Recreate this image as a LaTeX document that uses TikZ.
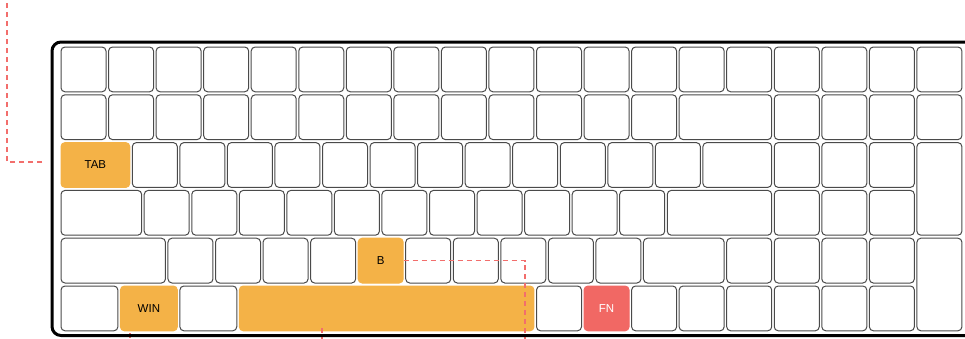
\documentclass[tikz,border=0pt]{standalone}
\usepackage{fontspec}
\setmainfont{Liberation Sans}
\definecolor{keyorange}{HTML}{F4B247}
\definecolor{keyred}{HTML}{F16864}
\definecolor{dashred}{HTML}{F26E6C}
\definecolor{keyline}{HTML}{4A4A4A}
\tikzset{
  keybase/.style={draw=keyline, line width=1pt, fill=white, rounded corners=4pt, inner sep=0pt, font=\fontsize{11.5}{12}\selectfont},
  hlkey/.style={fill=keyorange, draw=keyorange},
  fnkey/.style={fill=keyred, draw=keyred, text=white},
  dashline/.style={draw=dashred, line width=1.3pt, dash pattern=on 5pt off 4pt},
  frameline/.style={draw=black, line width=3pt, rounded corners=9pt}
}
% #1 name, #2 row top, #3 start (u), #4 width (u), #5 extra style, #6 text
\newcommand{\keyat}[6]{%
  \node[keybase,#5, minimum width={#4*47.55-2.55}, minimum height=44.8] (#1) at ({61+(#3+#4/2)*47.55-1.275}, {#2+22.4}) {#6};%
}
\begin{document}
\begin{tikzpicture}[x=1pt,y=-1pt]
\useasboundingbox (0,0) rectangle (965,338);
\clip (0,0) rectangle (965,338);
\fill[white] (0,0) rectangle (965,338);
% row 1
\foreach \i in {0,...,18} {\keyat{k1-\i}{47}{\i}{1}{}{}}
% row 2
\foreach \i in {0,...,12} {\keyat{k2-\i}{94.8}{\i}{1}{}{}}
\keyat{k2-bs}{94.8}{13}{2}{}{}
\foreach \i in {15,...,18} {\keyat{k2-\i}{94.8}{\i}{1}{}{}}
% row 3
\keyat{TAB}{142.6}{0}{1.5}{hlkey}{TAB}
\foreach \i in {0,...,11} {\keyat{k3-\i}{142.6}{1.5+\i}{1}{}{}}
\keyat{k3-bsl}{142.6}{13.5}{1.5}{}{}
\foreach \i in {15,16,17} {\keyat{k3-\i}{142.6}{\i}{1}{}{}}
\node[keybase, minimum width=45, minimum height=92.6] (tall1) at ({61+18.5*47.55-1.275},{142.6+46.3}) {};
% row 4
\keyat{k4-caps}{190.4}{0}{1.75}{}{}
\foreach \i in {0,...,10} {\keyat{k4-\i}{190.4}{1.75+\i}{1}{}{}}
\keyat{k4-ent}{190.4}{12.75}{2.25}{}{}
\foreach \i in {15,16,17} {\keyat{k4-\i}{190.4}{\i}{1}{}{}}
% row 5
\keyat{k5-sh}{238.2}{0}{2.25}{}{}
\foreach \i in {0,1,2,3} {\keyat{k5-\i}{238.2}{2.25+\i}{1}{}{}}
\keyat{B}{238.2}{6.25}{1}{hlkey}{B}
\foreach \i in {5,...,9} {\keyat{k5-\i}{238.2}{2.25+\i}{1}{}{}}
\keyat{k5-rsh}{238.2}{12.25}{1.75}{}{}
\foreach \i in {14,...,17} {\keyat{k5-\i}{238.2}{\i}{1}{}{}}
\node[keybase, minimum width=45, minimum height=92.6] (tall2) at ({61+18.5*47.55-1.275},{238.2+46.3}) {};
% row 6
\keyat{k6-ctl}{286}{0}{1.25}{}{}
\keyat{WIN}{286}{1.25}{1.25}{hlkey}{WIN}
\keyat{k6-alt}{286}{2.5}{1.25}{}{}
\keyat{SPACE}{286}{3.75}{6.25}{hlkey}{}
\keyat{k6-ralt}{286}{10}{1}{}{}
\keyat{FN}{286}{11}{1}{fnkey}{FN}
\foreach \i in {12,...,17} {\keyat{k6-\i}{286}{\i}{1}{}{}}
% dashed connectors
\coordinate (tabfree) at (42,162);
\coordinate (tabcorner) at (7,162);
\coordinate (tabtop) at (7,-3);
\draw[dashline] (tabfree) -- (tabcorner) -- (tabtop);
\coordinate (bdown) at (525,345);
\draw[dashline] (B.east) -| (bdown);
\coordinate (win1) at (130,333);
\coordinate (win2) at (130,345);
\draw[dashline] (win1) -- (win2);
\coordinate (sp1) at (322,328);
\coordinate (sp2) at (322,345);
\draw[dashline] (sp1) -- (sp2);
% frame
\draw[frameline] (52,42) rectangle (976,335.5);
\end{tikzpicture}
\end{document}
